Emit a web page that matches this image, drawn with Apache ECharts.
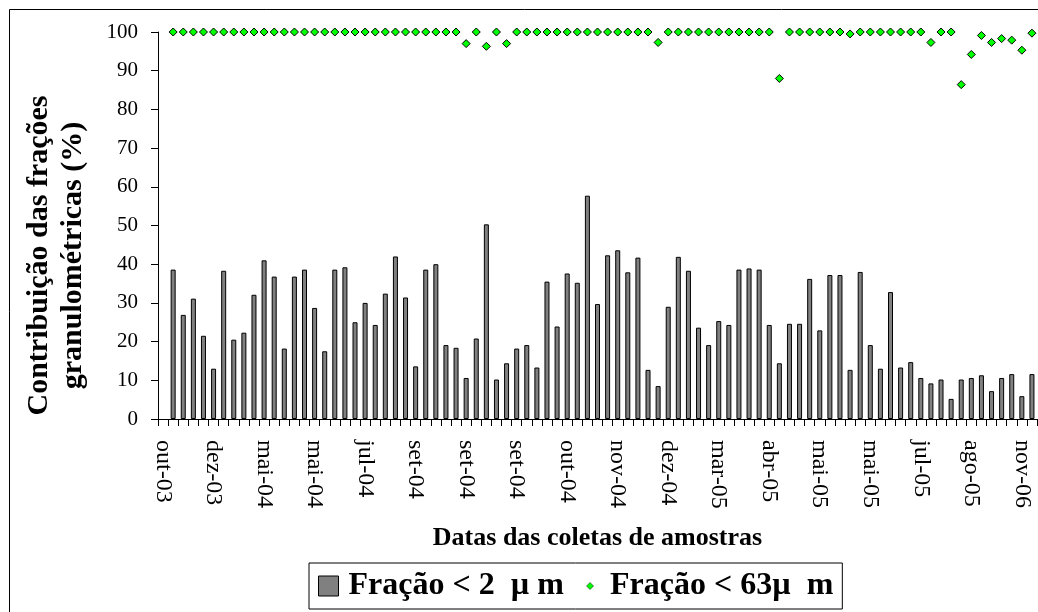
<!DOCTYPE html>
<html>
<head>
<meta charset="utf-8">
<script src="https://cdn.jsdelivr.net/npm/echarts@6/dist/echarts.min.js"></script>
<style>
  html, body { margin: 0; padding: 0; background: #fff; }
  #chart { width: 1038px; height: 612px; }
</style>
</head>
<body>
<div id="chart"></div>
<script>
// labels shown on every 5th sampling date
const tickLabels = ['out-03', 'dez-03', 'mai-04', 'mai-04', 'jul-04', 'set-04', 'set-04', 'set-04', 'out-04',
  'nov-04', 'dez-04', 'mar-05', 'abr-05', 'mai-05', 'mai-05', 'jul-05', 'ago-05', 'nov-06']
const labelStep = 5

// Fração < 2 µm (%)
const fineFraction = [null,
  38.6, 26.9, 31.1, 21.5, 13.0, 38.3, 20.5, 22.3, 32.1, 41.0,
  36.8, 18.2, 36.8, 38.6, 28.7, 17.5, 38.6, 39.2, 25.0, 30.0,
  24.3, 32.4, 42.0, 31.4, 13.6, 38.6, 40.0, 19.1, 18.4, 10.6,
  20.8, 50.3, 10.2, 14.4, 18.2, 19.1, 13.3, 35.5, 23.9, 37.6,
  35.2, 57.7, 29.7, 42.3, 43.6, 37.9, 41.7, 12.7, 8.5, 29.0,
  41.9, 38.3, 23.6, 19.1, 25.3, 24.3, 38.6, 38.9, 38.6, 24.3,
  14.4, 24.6, 24.6, 36.2, 22.9, 37.2, 37.2, 12.7, 38.0, 19.1,
  13.0, 32.8, 13.3, 14.7, 10.6, 9.2, 10.2, 5.2, 10.2, 10.6,
  11.3, 7.2, 10.6, 11.6, 5.9, 11.6]

// Fração < 63 µm (%)
const siltFraction = [null,
  100, 100, 100, 100, 100, 100, 100, 100, 100, 100,
  100, 100, 100, 100, 100, 100, 100, 100, 100, 100,
  100, 100, 100, 100, 100, 100, 100, 100, 100, 97.0,
  100, 96.3, 100, 97.0, 100, 100, 100, 100, 100, 100,
  100, 100, 100, 100, 100, 100, 100, 100, 97.3, 100,
  100, 100, 100, 100, 100, 100, 100, 100, 100, 100,
  88.0, 100, 100, 100, 100, 100, 100, 99.5, 100, 100,
  100, 100, 100, 100, 100, 97.3, 100, 100, 86.4, 94.2,
  99.1, 97.3, 98.3, 97.9, 95.3, 99.7]

const categories = fineFraction.map((_, i) => (i % labelStep === 0 ? tickLabels[i / labelStep] : ''))

const font = "'Liberation Serif', 'Times New Roman', serif"
const fineName = 'Fração < 2  µ m'
const siltName = 'Fração < 63µ  m'

const chart = echarts.init(document.getElementById('chart'), null, { renderer: 'canvas' })

chart.setOption({
  animation: false,
  backgroundColor: '#fff',
  textStyle: { fontFamily: font, color: '#000' },
  graphic: [{
    type: 'rect',
    shape: { x: 9.5, y: 9.5, width: 1040, height: 620 },
    style: { fill: 'none', stroke: '#000', lineWidth: 1 },
    silent: true,
    z: -1,
  }],
  grid: { left: 158, top: 32, width: 879, height: 387, containLabel: false, outerBoundsMode: 'none' },
  legend: {
    left: 309,
    top: 563,
    orient: 'horizontal',
    selectedMode: false,
    backgroundColor: '#fff',
    borderColor: '#000',
    borderWidth: 1,
    padding: [7, 9, 7, 9],
    itemGap: 16,
    itemWidth: 20,
    itemHeight: 20,
    textStyle: { fontFamily: font, fontWeight: 'bold', fontSize: 32, color: '#000', padding: [0, 0, 0, 5] },
    data: [
      { name: fineName, icon: 'rect', itemStyle: { color: '#808080', borderColor: '#000', borderWidth: 1 } },
      {
        name: siltName,
        icon: 'path://M0,0 M20,20 M10,6.5 L13.5,10 L10,13.5 L6.5,10 Z',
        itemStyle: { color: '#00ff00', borderColor: '#000', borderWidth: 0.5 },
      },
    ],
  },
  xAxis: {
    type: 'category',
    data: categories,
    boundaryGap: true,
    name: 'Datas das coletas de amostras',
    nameLocation: 'middle',
    nameGap: 106,
    nameTextStyle: { fontFamily: font, fontWeight: 'bold', fontSize: 26, color: '#000' },
    axisLine: { lineStyle: { color: '#000', width: 1 } },
    axisTick: { show: true, interval: 0, length: 7, alignWithLabel: false, lineStyle: { color: '#000' } },
    axisLabel: { interval: 0, rotate: -90, margin: 21, fontFamily: font, fontSize: 24, color: '#000' },
    splitLine: { show: false },
  },
  yAxis: {
    type: 'value',
    min: 0,
    max: 100,
    interval: 10,
    name: 'Contribuição das frações\ngranulométricas (%)',
    nameLocation: 'middle',
    nameRotate: 90,
    nameGap: 68,
    nameTextStyle: {
      fontFamily: font, fontWeight: 'bold', fontSize: 30, lineHeight: 34, color: '#000',
      padding: [0, 60, 0, 0],
    },
    axisLine: { show: true, lineStyle: { color: '#000', width: 1 } },
    axisTick: { show: true, length: 7, lineStyle: { color: '#000' } },
    axisLabel: { margin: 20, fontFamily: font, fontSize: 21, color: '#000' },
    splitLine: { show: false },
  },
  series: [
    {
      name: fineName,
      type: 'bar',
      data: fineFraction,
      barWidth: 5,
      itemStyle: { color: '#808080', borderColor: '#000', borderWidth: 1 },
      z: 2,
    },
    {
      name: siltName,
      type: 'scatter',
      data: siltFraction,
      symbol: 'diamond',
      symbolSize: 8,
      itemStyle: { color: '#00ff00', borderColor: '#000', borderWidth: 1, opacity: 1 },
      z: 3,
    },
  ],
})
</script>
</body>
</html>
